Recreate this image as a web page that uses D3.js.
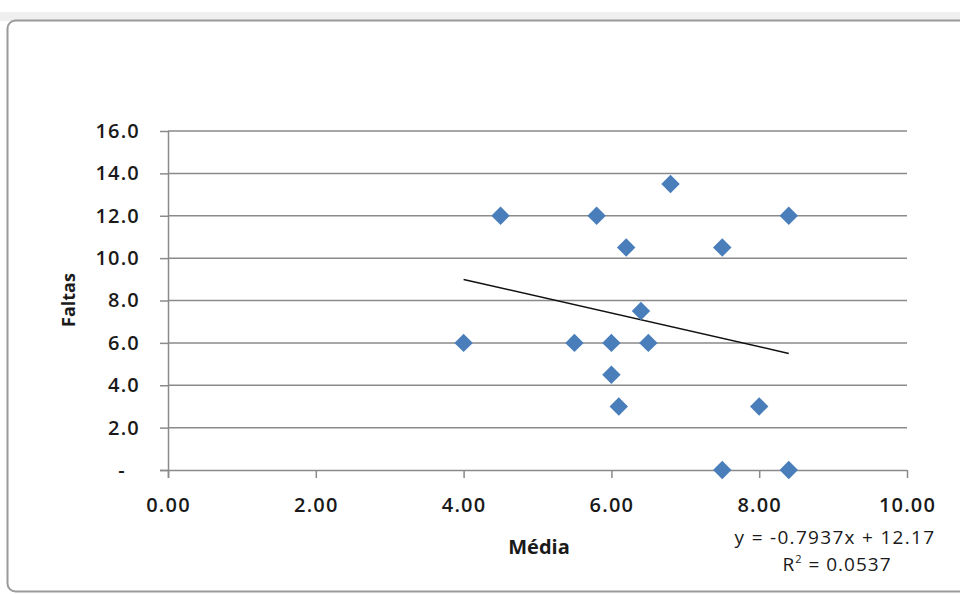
<!DOCTYPE html>
<html>
<head>
<meta charset="utf-8">
<script src="https://cdn.jsdelivr.net/npm/d3@7"></script>
<style>
  body { margin: 0; background: #fff; }
  text { font-family: "Open Sans", "DejaVu Sans", sans-serif; fill: #1a1a1a; }
</style>
</head>
<body>
<svg id="chart" width="960" height="594"></svg>
<script>
// Média (x) and Faltas (y)
const media  = [4.0, 4.5, 5.5, 5.8, 6.2, 6.0, 6.0, 6.1, 6.4, 6.5, 6.8, 7.5, 7.5, 8.4, 8.0, 8.4]
const faltas = [6.0, 12.0, 6.0, 12.0, 10.5, 6.0, 4.5, 3.0, 7.5, 6.0, 13.5, 10.5, 0.0, 12.0, 3.0, 0.0]
const xTicks = [0, 2, 4, 6, 8, 10]
const yTicks = [0, 2, 4, 6, 8, 10, 12, 14, 16]
const slope = -0.7937
const intercept = 12.17
const r2 = 0.0537

const svg = d3.select('#chart')

// spreadsheet strip and chart frame
svg.append('rect').attr('x', 0).attr('y', 12).attr('width', 960).attr('height', 9).attr('fill', '#efefef')
svg.append('rect').attr('x', 7.5).attr('y', 20.5).attr('width', 960).attr('height', 571)
  .attr('rx', 8).attr('fill', '#fff').attr('stroke', '#9a9a9a').attr('stroke-width', 2)

const plotL = 168, plotR = 907, plotT = 131, plotB = 470
const x = d3.scaleLinear().domain([0, 10]).range([plotL, plotR])
const y = d3.scaleLinear().domain([0, 16]).range([plotB, plotT])

// gridlines
svg.append('g').selectAll('line').data(yTicks.filter(d => d > 0)).enter().append('line')
  .attr('x1', plotL).attr('x2', plotR)
  .attr('y1', d => y(d)).attr('y2', d => y(d))
  .attr('stroke', '#8a8a8a').attr('stroke-width', 1.5)

const yAxis = d3.axisLeft(y).tickValues(yTicks).tickSize(8).tickPadding(20)
  .tickFormat(d => d === 0 ? '-' : d3.format('.1f')(d))
const gy = svg.append('g').attr('transform', 'translate(' + plotL + ',0)').call(yAxis)

const xAxis = d3.axisBottom(x).tickValues(xTicks).tickSize(8).tickPadding(20)
  .tickFormat(d3.format('.2f'))
const gx = svg.append('g').attr('transform', 'translate(0,' + plotB + ')').call(xAxis)

;[gx, gy].forEach(g => {
  g.select('.domain').attr('stroke', '#8a8a8a').attr('stroke-width', 1.5)
  g.selectAll('.tick line').attr('stroke', '#8a8a8a').attr('stroke-width', 1.5)
  g.selectAll('.tick text').style('font-size', '20px').style('font-weight', 600)
    .style('letter-spacing', '1.2px').attr('fill', '#262626')
})
// zero shown as a dash, excel style, sits a bit further left
gy.selectAll('.tick text').filter(d => d === 0).attr('x', -42)
gx.select('.domain').attr('d', 'M' + (plotL - 8) + ',0.5H' + plotR)
gy.select('.domain').attr('d', 'M0.5,' + plotT + 'V' + (plotB + 8))

// trendline
const tx = d3.extent(media)
svg.append('line')
  .attr('x1', x(tx[0])).attr('y1', y(slope * tx[0] + intercept))
  .attr('x2', x(tx[1])).attr('y2', y(slope * tx[1] + intercept))
  .attr('stroke', '#111').attr('stroke-width', 1.5)

// diamonds
const diamond = d3.symbol().type(d3.symbolSquare).size(170)
svg.append('g').selectAll('path').data(media).enter().append('path')
  .attr('d', diamond)
  .attr('transform', (d, i) => 'translate(' + x(d) + ',' + y(faltas[i]) + ') rotate(45)')
  .attr('fill', '#4a7ebb')

// axis titles
svg.append('text').attr('x', 539).attr('y', 554).attr('text-anchor', 'middle')
  .style('font-size', '20px').style('font-weight', 700).text('Média')
svg.append('text').attr('transform', 'translate(75,300) rotate(-90)').attr('text-anchor', 'middle')
  .style('font-size', '18px').style('font-weight', 700).text('Faltas')

// equation
svg.append('text').attr('x', 835).attr('y', 544).attr('text-anchor', 'middle')
  .style('font-size', '19px').style('letter-spacing', '1.3px')
  .text('y = ' + slope + 'x + ' + intercept)
const rt = svg.append('text').attr('x', 837).attr('y', 571).attr('text-anchor', 'middle')
  .style('font-size', '19px').style('letter-spacing', '1px')
rt.append('tspan').text('R')
rt.append('tspan').attr('dy', -8).style('font-size', '11px').text('2')
rt.append('tspan').attr('dy', 8).text(' = ' + r2)
</script>
</body>
</html>
